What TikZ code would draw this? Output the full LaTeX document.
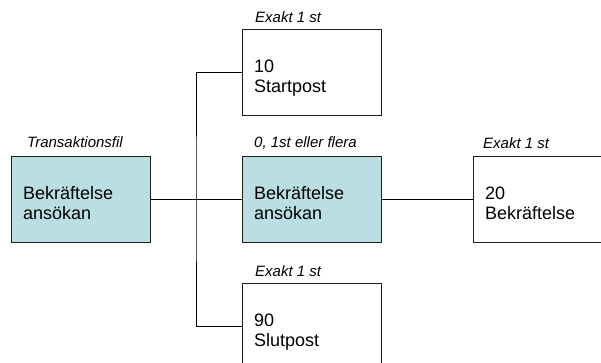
\documentclass[tikz,border=0pt]{standalone}
\usepackage{fontspec}
\setmainfont{Liberation Sans}
\definecolor{boxfill}{RGB}{186,222,226}
\definecolor{boxline}{RGB}{30,30,30}
\begin{document}
\begin{tikzpicture}[x=1pt,y=-1pt,
  recbox/.style={draw=boxline,line width=0.9pt,minimum width=139pt,minimum height=86pt,inner sep=0pt,outer sep=0pt},
  filled/.style={recbox,fill=boxfill},
  boxtext/.style={anchor=north west,inner sep=0pt,align=left,font=\fontsize{18}{20.7}\selectfont},
  lbl/.style={anchor=base west,inner sep=0pt,font=\fontsize{15}{17}\selectfont\itshape},
  conn/.style={draw=black,line width=0.8pt}]
\useasboundingbox (0,0) rectangle (601,363);
\fill[white] (0,0) rectangle (601,363);
% boxes
\node[filled] (A) at (80.5,199) {};
\node[recbox] (B) at (311.5,72) {};
\node[filled] (C) at (311.5,199) {};
\node[recbox] (D) at (311.5,326) {};
\node[recbox] (E) at (542.5,199) {};
% box texts
\node[boxtext] (tA) at ([shift={(12,29)}]A.north west) {\rule{0pt}{14pt}Bekräftelse\\ansökan};
\node[boxtext] (tB) at ([shift={(12,29)}]B.north west) {\rule{0pt}{14pt}10\\Startpost};
\node[boxtext] (tC) at ([shift={(12,29)}]C.north west) {\rule{0pt}{14pt}Bekräftelse\\ansökan};
\node[boxtext] (tD) at ([shift={(12,29)}]D.north west) {\rule{0pt}{14pt}90\\Slutpost};
\node[boxtext] (tE) at ([shift={(12,29)}]E.north west) {\rule{0pt}{14pt}20\\Bekräftelse};
% labels
\node[lbl] (lA) at (27,148) {Transaktionsfil};
\node[lbl] (lB) at (255,22.5) {Exakt 1 st};
\node[lbl] (lC) at (254,148) {0, 1st eller flera};
\node[lbl] (lD) at (255,276) {Exakt 1 st};
\node[lbl] (lE) at (483,149) {Exakt 1 st};
% connectors
\coordinate (j) at (196,199);
\draw[conn] (A.east) -- (C.west);
\draw[conn] (B.west) -| (j) |- (D.west);
\draw[conn] (C.east) -- (E.west);
\end{tikzpicture}
\end{document}
